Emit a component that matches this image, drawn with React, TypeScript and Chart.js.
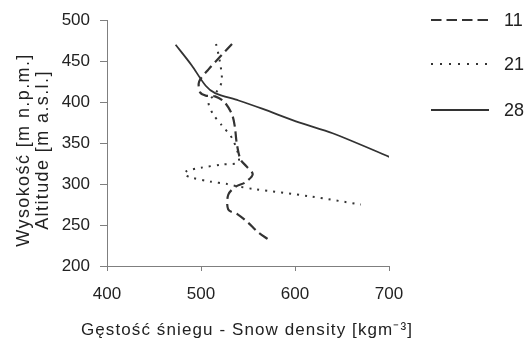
import React, { useEffect, useRef } from "react";
import { Chart, registerables } from "chart.js";

Chart.register(...registerables);

// Series 11 (dashed)
const density11 = [533, 520, 508, 498, 499, 505, 515, 525, 533, 536, 538, 542, 548, 555, 547, 537, 529, 529, 539, 550, 560, 572];
const altitude11 = [471, 455, 440, 425, 412, 408, 407, 400, 385, 370, 350, 330, 322, 312, 302, 297, 287, 269, 263, 253, 242, 232];

// Series 21 (dotted)
const density21 = [516, 520, 522, 515, 508, 513, 522, 534, 540, 523, 500, 485, 482, 490, 510, 528, 540, 556, 616, 670];
const altitude21 = [471, 450, 425, 410, 400, 385, 372, 354, 327, 324, 320, 316, 312, 308, 303, 300, 297, 294, 285, 275];

// Series 28 (solid)
const density28 = [473, 490, 505, 515, 540, 565, 605, 640, 703];
const altitude28 = [470, 445, 420, 411, 402, 392, 375, 362, 332];

const seriesLabels = ["11", "21", "28"];
const xTicks = [400, 500, 600, 700];
const yTicks = [200, 250, 300, 350, 400, 450, 500];

const xTitle = "Gęstość śniegu - Snow density [kgm⁻³]";
const yTitle = ["Wysokość [m n.p.m.]", "Altitude [m a.s.l.]"];

const FONT = "'Liberation Sans', Arial, sans-serif";
const LINE = "#333333";
const AXIS = "#7f7f7f";
const TEXT = "#222222";

const toPts = (xs: number[], ys: number[]) => xs.map((x, i) => ({ x, y: ys[i] }));

const dashes = [[10, 5], [2, 6], []];

const decorPlugin = {
  id: "decor",
  afterDraw(chart: any) {
    const ctx = chart.ctx;
    // legend
    const ys = [20, 64, 110];
    chart.data.datasets.forEach((ds: any, i: number) => {
      ctx.save();
      ctx.strokeStyle = LINE;
      ctx.lineWidth = 2;
      ctx.setLineDash(i === 0 ? [10.5, 5] : i === 1 ? [2, 7] : []);
      ctx.beginPath();
      ctx.moveTo(431, ys[i]);
      ctx.lineTo(489, ys[i]);
      ctx.stroke();
      ctx.setLineDash([]);
      ctx.fillStyle = TEXT;
      ctx.font = `18px ${FONT}`;
      ctx.textBaseline = "middle";
      ctx.textAlign = "left";
      ctx.fillText(ds.label, 504, ys[i] + 1);
      ctx.restore();
    });
    // axis titles
    ctx.save();
    ctx.fillStyle = TEXT;
    ctx.textAlign = "center";
    ctx.textBaseline = "middle";
    ctx.font = `17px ${FONT}`;
    (ctx as any).letterSpacing = "1.1px";
    ctx.fillText(xTitle, 247, 330);
    ctx.translate(0, 150);
    ctx.rotate(-Math.PI / 2);
    ctx.font = `18px ${FONT}`;
    (ctx as any).letterSpacing = "1.4px";
    ctx.fillText(yTitle[0], 0, 24.5);
    ctx.fillText(yTitle[1], 0, 43);
    ctx.restore();
  },
};

export default function App() {
  const ref = useRef<HTMLCanvasElement | null>(null);
  useEffect(() => {
    document.body.style.margin = "0";
    const canvas = ref.current!;
    const chart = new Chart(canvas, {
      type: "scatter",
      data: {
        datasets: [
          { label: seriesLabels[0], data: toPts(density11, altitude11), borderDash: dashes[0], borderWidth: 2.2 },
          { label: seriesLabels[1], data: toPts(density21, altitude21), borderDash: dashes[1], borderWidth: 2 },
          { label: seriesLabels[2], data: toPts(density28, altitude28), borderDash: dashes[2], borderWidth: 1.8 },
        ].map((d) => ({
          ...d,
          showLine: true,
          pointRadius: 0,
          borderColor: LINE,
          backgroundColor: LINE,
          tension: 0.3,
          fill: false,
        })),
      },
      options: {
        animation: false,
        responsive: false,
        maintainAspectRatio: false,
        layout: { padding: { top: 20, right: 137, left: 0, bottom: 0 } },
        plugins: { legend: { display: false }, tooltip: { enabled: false } },
        scales: {
          x: {
            type: "linear",
            min: 400,
            max: 700,
            afterBuildTicks: (s: any) => {
              s.ticks = xTicks.map((v) => ({ value: v }));
            },
            afterFit: (s: any) => {
              s.height = 76;
            },
            grid: { display: true, drawOnChartArea: false, drawTicks: true, tickLength: 5, color: AXIS },
            border: { display: true, color: AXIS, width: 1 },
            ticks: { color: TEXT, font: { family: FONT, size: 17 }, padding: 13, maxRotation: 0 },
            title: { display: false },
          },
          y: {
            type: "linear",
            min: 200,
            max: 500,
            afterBuildTicks: (s: any) => {
              s.ticks = yTicks.map((v) => ({ value: v }));
            },
            afterFit: (s: any) => {
              s.width = 107;
            },
            grid: { display: true, drawOnChartArea: false, drawTicks: true, tickLength: 7, color: AXIS },
            border: { display: true, color: AXIS, width: 1 },
            ticks: { color: TEXT, font: { family: FONT, size: 17 }, padding: 10 },
            title: { display: false },
          },
        },
      } as any,
      plugins: [decorPlugin],
    });
    return () => chart.destroy();
  }, []);
  return <canvas ref={ref} width={526} height={342} style={{ display: "block" }} />;
}
